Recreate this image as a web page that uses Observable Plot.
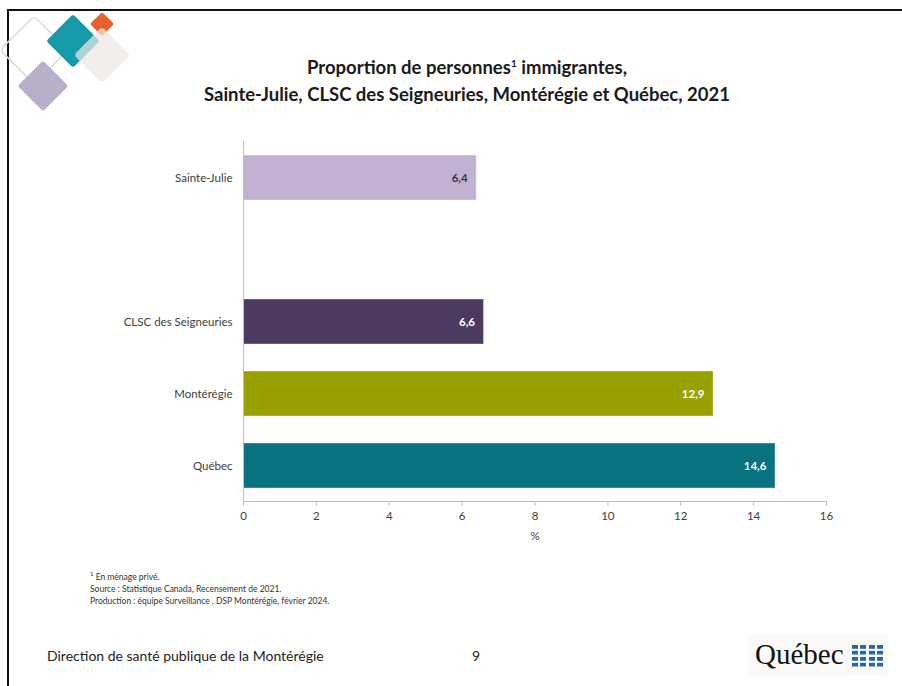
<!DOCTYPE html>
<html><head><meta charset="utf-8">
<script src="https://cdn.jsdelivr.net/npm/d3@7"></script>
<script src="https://cdn.jsdelivr.net/npm/@observablehq/plot@0.6"></script>
<style>
html,body{margin:0;padding:0;background:#fff;}
#page{position:relative;width:902px;height:686px;overflow:hidden;font-family:Lato,"Open Sans",sans-serif;color:#222;}
#border{position:absolute;left:7px;top:9px;width:1000px;height:1000px;border-left:2px solid #111;border-top:2px solid #111;}
#title{position:absolute;left:0;width:934px;top:50px;text-align:center;font-weight:bold;font-size:18.5px;line-height:27px;color:#1a1a1a;}
#chart{position:absolute;left:0;top:130px;}
#notes{position:absolute;left:90px;top:568px;font-size:8.5px;line-height:12px;color:#333;}
#footer{position:absolute;left:47px;top:647px;font-size:14px;color:#222;}
#pagenum{position:absolute;left:472px;top:647px;font-size:14px;color:#222;}
#qc{position:absolute;left:748px;top:634px;width:140px;height:42px;background:#fbfaf8;}
#qc span{position:absolute;left:7px;top:4px;font-family:"Liberation Serif","DejaVu Serif",serif;font-size:29px;color:#111;}
</style></head>
<body><div id="page">
<div id="border"></div>
<svg style="position:absolute;left:0;top:0" width="160" height="130">
  <rect x="-20" y="-20" width="40" height="40" rx="4" transform="translate(34,50) rotate(45) scale(1.2)" fill="none" stroke="#d9ddd3" stroke-width="1.3"/>
  <rect x="-19" y="-19" width="38" height="38" rx="3" transform="translate(73,41) rotate(45)" fill="#1699a9"/>
  <rect x="-18" y="-18" width="36" height="36" rx="3" transform="translate(43,86) rotate(45)" fill="#b8b0cb"/>
  <rect x="-8.5" y="-8.5" width="17" height="17" rx="2" transform="translate(102,24) rotate(45)" fill="#e8612a"/>
  <rect x="-20" y="-20" width="40" height="40" rx="4" transform="translate(102,55) rotate(45)" fill="#ece8e5" fill-opacity="0.72"/>
</svg>
<div id="title">Proportion de personnes<sup style="font-size:10px;vertical-align:7px">1</sup> immigrantes,<br>Sainte-Julie, CLSC des Seigneuries, Montérégie et Québec, 2021</div>
<div id="chart"></div>
<div id="notes"><sup style="font-size:6px">1</sup> En ménage privé.<br>Source : Statistique Canada, Recensement de 2021.<br>Production : équipe Surveillance , DSP Montérégie, février 2024.</div>
<div id="footer">Direction de santé publique de la Montérégie</div>
<div id="pagenum">9</div>
<div id="qc"><span>Québec</span>
<svg style="position:absolute;left:104px;top:11px" width="32" height="22">
  <g fill="#2a63b0">
    <rect x="0" y="0" width="14" height="9.5"/><rect x="17" y="0" width="14" height="9.5"/>
    <rect x="0" y="12" width="14" height="9.5"/><rect x="17" y="12" width="14" height="9.5"/>
  </g>
  <g fill="#fff">
    <rect x="6" y="0" width="2" height="9.5"/><rect x="0" y="3.8" width="14" height="2"/>
    <rect x="23" y="0" width="2" height="9.5"/><rect x="17" y="3.8" width="14" height="2"/>
    <rect x="6" y="12" width="2" height="9.5"/><rect x="0" y="15.8" width="14" height="2"/>
    <rect x="23" y="12" width="2" height="9.5"/><rect x="17" y="15.8" width="14" height="2"/>
  </g>
</svg></div>
</div>
<script>
const categories = ["Sainte-Julie", " ", "CLSC des Seigneuries", "Montérégie", "Québec"];
const regions = ["Sainte-Julie", "CLSC des Seigneuries", "Montérégie", "Québec"];
const values = [6.4, 6.6, 12.9, 14.6];
const barColors = ["#c1b2d2", "#4c3b61", "#99a100", "#097280"];
const xTicks = [0, 2, 4, 6, 8, 10, 12, 14, 16];

const data = regions.map((r, i) => ({region: r, value: values[i]}));
const fmt = v => v.toFixed(1).replace(".", ",");

const chart = Plot.plot({
  width: 902,
  height: 420,
  marginTop: 11,
  marginBottom: 49,
  marginLeft: 243,
  marginRight: 76,
  style: {fontFamily: "Lato, 'Open Sans', sans-serif", fontSize: "11px", color: "#404040", background: "transparent"},
  x: {domain: [0, 16]},
  y: {domain: categories, paddingInner: 0.375, paddingOuter: 0.1875},
  color: {domain: regions, range: barColors},
  marks: [
    Plot.barX(data, {y: "region", x: "value", fill: "region", stroke: "#ffffff", strokeOpacity: 0.35, strokeWidth: 1}),
    Plot.text(data, {y: "region", x: "value", text: d => fmt(d.value), textAnchor: "end", dx: -9,
      fill: d => d.region === "Sainte-Julie" ? "#3d3150" : "#ffffff", fontWeight: "bold", fontSize: 11.5}),
    Plot.ruleX([0], {stroke: "#bfbfbf", strokeWidth: 1}),
    Plot.frame({anchor: "bottom", stroke: "#bfbfbf", strokeWidth: 1}),
    Plot.axisX({ticks: xTicks, tickSize: 5, tickPadding: 5, stroke: "#bfbfbf", fill: "#404040", fontSize: 11.5,
      label: "%", labelAnchor: "center", labelOffset: 38, labelArrow: false, tickFormat: d => String(d)}),
    Plot.axisY({tickSize: 0, tickPadding: 11, fill: "#404040", fontSize: 11.5, label: null})
  ]
});
document.getElementById("chart").appendChild(chart);
</script>
</body></html>
